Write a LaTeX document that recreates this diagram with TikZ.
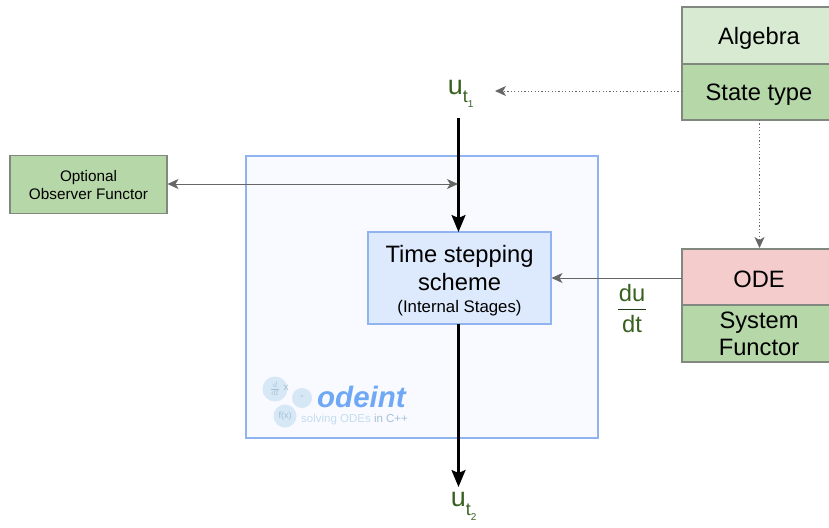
\documentclass[tikz,border=0pt]{standalone}
\usepackage{fontspec}
\setmainfont{Liberation Sans}
\usepackage{xcolor}
\usetikzlibrary{arrows.meta}

\definecolor{greenfill}{HTML}{B6D7A8}
\definecolor{palegreen}{HTML}{D9EAD3}
\definecolor{redfill}{HTML}{F4CCCC}
\definecolor{boxline}{HTML}{808880}
\definecolor{blueline}{HTML}{8FB4F0}
\definecolor{bluefill}{HTML}{DDE9FC}
\definecolor{outerfill}{HTML}{F8FAFF}
\definecolor{labelgreen}{HTML}{38601F}
\definecolor{arrowgray}{HTML}{666666}
\definecolor{logoblue}{HTML}{6FA8F5}
\definecolor{logopale}{HTML}{C4DDEE}
\definecolor{logocirc}{HTML}{D6E7F6}
\definecolor{logotext}{HTML}{A5C0D6}

\tikzset{
  block/.style={draw=boxline, line width=1.1pt, inner sep=0pt, align=center, text=black},
  bluebox/.style={draw=blueline, line width=1.1pt, inner sep=0pt, align=center},
  statelabel/.style={text=labelgreen, font=\fontsize{27}{27}\selectfont, inner sep=0pt},
  thinarrow/.style={-{Stealth[length=11pt, width=10pt, inset=3pt]}, color=arrowgray, line width=1pt},
  dotarrow/.style={-{Stealth[length=11pt, width=10pt, inset=3pt]}, color=arrowgray, line width=.9pt, dash pattern=on 1.2pt off 2.2pt},
  mainarrow/.style={-{Stealth[length=17pt, width=14pt, inset=3pt]}, color=black, line width=2.2pt},
  logocircle/.style={circle, fill=logocirc, minimum size=#1, inner sep=0pt, text=logotext}
}

\begin{document}
\begin{tikzpicture}[x=1pt, y=-1pt]
    \useasboundingbox (0, 0) rectangle (829, 527);

    \node [bluebox, fill=outerfill, minimum width=352pt, minimum height=282pt] (odeint) at (422, 297) {};

    \node [block, fill=palegreen, minimum width=154pt, minimum height=57pt] (algebra) at (759, 35.5) {};
    \node [block, fill=greenfill, minimum width=154pt, minimum height=56pt] (state) at (759, 92) {};
    \node [block, fill=redfill, minimum width=154pt, minimum height=56pt] (ode) at (759, 277) {};
    \node [block, fill=greenfill, minimum width=154pt, minimum height=57pt] (system) at (759, 333.5) {};
    \node [block, fill=greenfill, minimum width=157pt, minimum height=58pt] (observer) at (88.5, 184.5) {};
    \node [align=center, font=\fontsize{15.3}{18.5}\selectfont, inner sep=0pt] (observertext) at (88.5, 185) {Optional\\Observer Functor};

    \node [font=\fontsize{23.7}{26}\selectfont, inner sep=0pt] (algebratext) at (759, 38.5) {Algebra};
    \node [font=\fontsize{23.7}{26}\selectfont, inner sep=0pt] (statetext) at (759, 95) {State type};
    \node [font=\fontsize{23.7}{26}\selectfont, inner sep=0pt] (odetext) at (759, 279) {ODE};
    \node [align=center, font=\fontsize{23.7}{27}\selectfont, inner sep=0pt] (systemtext) at (759, 334) {System\\Functor};

    \node [bluebox, fill=bluefill, minimum width=183pt, minimum height=92pt] (stepper) at (459.5, 278) {};
    \node [align=center, font=\fontsize{23.7}{27.5}\selectfont, inner sep=0pt] (steptext) at (459.5, 268) {Time stepping\\scheme};
    \node [font=\fontsize{16.8}{18}\selectfont, inner sep=0pt] (stages) at (459.5, 308) {(Internal Stages)};

    \node [statelabel] (ut1) at (461, 94) {u\textsubscript{\raisebox{-5pt}{\fontsize{18}{18}\selectfont t}\raisebox{-10pt}{\fontsize{10}{10}\selectfont 1}}};
    \node [statelabel] (ut2) at (464, 506) {u\textsubscript{\raisebox{-5pt}{\fontsize{18}{18}\selectfont t}\raisebox{-10pt}{\fontsize{10}{10}\selectfont 2}}};
    \node [text=labelgreen, font=\fontsize{23.7}{24}\selectfont, inner sep=0pt] (du) at (632, 293) {du};
    \node [text=labelgreen, font=\fontsize{23.7}{24}\selectfont, inner sep=0pt] (dt) at (632, 324) {dt};

    % fraction bar
    \coordinate (barleft) at (618, 309);
    \coordinate (barright) at (646, 309);
    \draw [color=labelgreen!60!black, line width=1pt] (barleft) to (barright);

    \coordinate (ut1top) at (458.5, 118);
    \coordinate (ut2end) at (458.5, 487);
    \coordinate (stepin) at (458.5, 232);
    \coordinate (stepout) at (458.5, 324);
    \coordinate (obsjoin) at (458, 184);
    \coordinate (obsstart) at (167.5, 184);
    \coordinate (statewest) at (682, 91);
    \coordinate (dotend) at (495, 91);
    \coordinate (odeout) at (682, 278);
    \coordinate (odedot) at (759.5, 248);
    \coordinate (statesouth) at (759.5, 120);
    \coordinate (stepright) at (551.5, 278);

    \draw [mainarrow] (ut1top) to (stepin);
    \draw [mainarrow] (stepout) to (ut2end);
    \draw [thinarrow, {Stealth[length=11pt, width=10pt, inset=3pt]}-{Stealth[length=11pt, width=10pt, inset=3pt]}] (obsstart) to (obsjoin);
    \draw [thinarrow] (odeout) to (stepright);
    \draw [dotarrow] (statewest) to (dotend);
    \draw [dotarrow] (statesouth) to (odedot);

    % logo
    \node [logocircle=25pt, font=\fontsize{11}{11}\selectfont] (ddt) at (275, 389) {$\frac{d}{dt}$};
    \node [text=logotext, font=\fontsize{10}{10}\selectfont, inner sep=0pt] (ddtx) at (286, 388) {x};
    \node [logocircle=20pt, font=\fontsize{11}{11}\selectfont] (minus) at (302, 398) {-};
    \node [logocircle=23pt, font=\fontsize{9}{9}\selectfont] (fx) at (285, 416) {f(x)};
    \node [text=logoblue, font=\fontsize{29.5}{30}\selectfont\itshape\bfseries, inner sep=0pt, anchor=west] (logoname) at (317, 397) {odeint};
    \node [text=logopale, font=\fontsize{11.5}{12}\selectfont, inner sep=0pt, anchor=west] (logotag) at (301, 419.5) {solving ODEs \textcolor{logotext}{in C++}};
\end{tikzpicture}
\end{document}
